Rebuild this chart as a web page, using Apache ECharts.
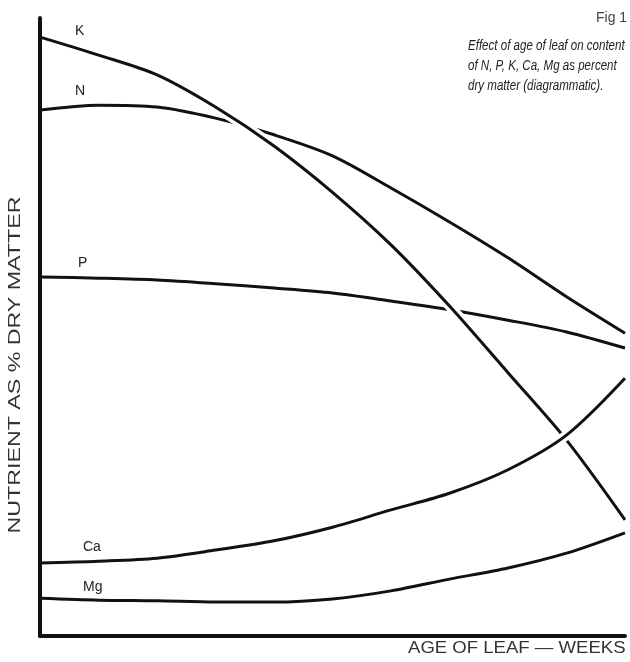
<!DOCTYPE html>
<html>
<head>
<meta charset="utf-8">
<script src="https://cdn.jsdelivr.net/npm/echarts@6/dist/echarts.min.js"></script>
<style>
  html, body { margin: 0; padding: 0; background: #fff; }
  #main { width: 630px; height: 662px; }
</style>
</head>
<body>
<div id="main"></div>
<script>
// age of leaf (arbitrary weeks, 0..10)
var weeks = [0, 1, 2, 3, 4, 5, 6, 7, 8, 9, 10];
// nutrient as % dry matter (diagrammatic units, 0..100)
var kVals  = [96.9, 94.0, 90.8, 85.6, 79.3, 71.8, 63.3, 53.4, 42.6, 31.7, 18.8];
var nVals  = [85.1, 85.9, 85.6, 83.8, 81.1, 77.7, 72.5, 67.0, 61.2, 54.9, 49.0];
var pVals  = [58.1, 57.9, 57.6, 57.0, 56.3, 55.5, 54.2, 52.8, 51.1, 49.2, 46.6];
var caVals = [11.8, 12.1, 12.6, 13.9, 15.4, 17.6, 20.4, 23.1, 26.9, 32.5, 41.7];
var mgVals = [6.1, 5.8, 5.7, 5.5, 5.5, 6.0, 7.3, 9.2, 11.0, 13.4, 16.7];

var FONT = '"Liberation Sans", "DejaVu Sans", sans-serif';

function pairs(vals) {
    var out = [];
    for (var i = 0; i < weeks.length; i++) {
        out.push([weeks[i], vals[i]]);
    }
    return out;
}

// one curve, black, or a white halo under it so it cuts the lines behind
function curve(name, vals, halo) {
    return {
        name: name,
        type: 'line',
        smooth: 0.3,
        symbol: 'none',
        silent: true,
        data: pairs(vals),
        lineStyle: {
            color: halo ? '#ffffff' : '#111111',
            width: halo ? 10 : 3
        }
    };
}

var chart = echarts.init(document.getElementById('main'));
chart.setOption({
    animation: false,
    backgroundColor: '#ffffff',
    grid: { left: 40, right: 5, top: 18, bottom: 26 },
    xAxis: {
        type: 'value',
        min: 0,
        max: 10,
        z: 10,
        axisLine: { show: true, lineStyle: { color: '#111', width: 4 } },
        axisTick: { show: false },
        axisLabel: { show: false },
        splitLine: { show: false }
    },
    yAxis: {
        type: 'value',
        min: 0,
        max: 100,
        z: 10,
        axisLine: { show: true, lineStyle: { color: '#111', width: 4 } },
        axisTick: { show: false },
        axisLabel: { show: false },
        splitLine: { show: false }
    },
    series: [
        curve('N', nVals, false),
        curve('P', pVals, false),
        curve('K-halo', kVals, true),
        curve('K', kVals, false),
        curve('Ca-halo', caVals, true),
        curve('Ca', caVals, false),
        curve('Mg', mgVals, false)
    ],
    graphic: [
        { type: 'text', left: 596, top: 11, style: { text: 'Fig 1', font: '14px ' + FONT, fill: '#444' } },
        { type: 'text', x: 468, y: 36, scaleX: 0.77,
          style: { text: 'Effect of age of leaf on content\nof N, P, K, Ca, Mg as percent\ndry matter (diagrammatic).', font: 'italic 15px ' + FONT, fill: '#222', lineHeight: 20 } },
        { type: 'text', left: 75, top: 24, style: { text: 'K', font: '14px ' + FONT, fill: '#222' } },
        { type: 'text', left: 75, top: 84, style: { text: 'N', font: '14px ' + FONT, fill: '#222' } },
        { type: 'text', left: 78, top: 256, style: { text: 'P', font: '14px ' + FONT, fill: '#222' } },
        { type: 'text', left: 83, top: 540, style: { text: 'Ca', font: '14px ' + FONT, fill: '#222' } },
        { type: 'text', left: 83, top: 580, style: { text: 'Mg', font: '14px ' + FONT, fill: '#222' } },
        { type: 'text', x: 408, y: 641, scaleX: 1.16,
          style: { text: 'AGE OF LEAF — WEEKS', font: '16px ' + FONT, fill: '#333' } },
        { type: 'text', x: 16, y: 365, rotation: Math.PI / 2, scaleX: 1.45,
          style: { text: 'NUTRIENT AS % DRY MATTER', font: '16px ' + FONT, fill: '#333', align: 'center', verticalAlign: 'middle' } }
    ]
});
</script>
</body>
</html>
